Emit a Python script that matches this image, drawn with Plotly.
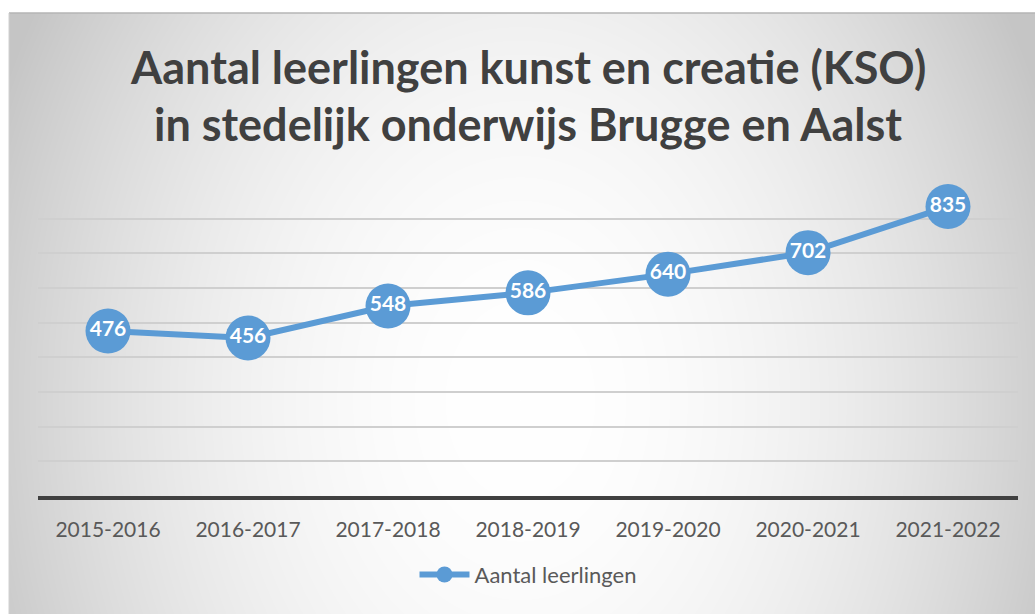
import base64, struct, zlib
import numpy as np
import plotly.graph_objects as go

# ---- data ----
categories = ["2015-2016", "2016-2017", "2017-2018", "2018-2019", "2019-2020", "2020-2021", "2021-2022"]
values = [476, 456, 548, 586, 640, 702, 835]
series_name = "Aantal leerlingen"
title_lines = ["Aantal leerlingen kunst en creatie (KSO)", "in stedelijk onderwijs Brugge en Aalst"]

# ---- layout geometry (window pixels) ----
W, H = 1035, 614
plot_left, plot_right, plot_top, plot_bottom = 38, 1018, 184, 496
L, R, T, B = plot_left, W - plot_right, plot_top, H - plot_bottom
PW, PH = plot_right - plot_left, plot_bottom - plot_top
panel_x0, panel_y0 = 9, 13


def px_to_paper(px, py):
    return (px - plot_left) / PW, (plot_bottom - py) / PH


# ---- radial gradient background as PNG ----
def gray_png(arr):
    h, w = arr.shape
    raw = b"".join(b"\x00" + arr[i].tobytes() for i in range(h))

    def chunk(tag, data):
        c = struct.pack(">I", len(data)) + tag + data
        return c + struct.pack(">I", zlib.crc32(tag + data) & 0xFFFFFFFF)

    png = b"\x89PNG\r\n\x1a\n"
    png += chunk(b"IHDR", struct.pack(">IIBBBBB", w, h, 8, 0, 0, 0, 0))
    png += chunk(b"IDAT", zlib.compress(raw, 9))
    png += chunk(b"IEND", b"")
    return "data:image/png;base64," + base64.b64encode(png).decode()


iw, ih = W - panel_x0, H - panel_y0
yy, xx = np.mgrid[0:ih, 0:iw].astype(float)
xx += panel_x0
yy += panel_y0
d2 = ((xx - 520) / 513.0) ** 2 + ((yy - 400) / 684.0) ** 2
v = 255 - np.minimum(47 * d2, 58)
img = np.clip(v, 0, 255).astype(np.uint8)
bg_src = gray_png(img)

fig = go.Figure()
fig.add_trace(go.Scatter(
    x=categories, y=values, name=series_name,
    mode="lines+markers+text",
    line=dict(color="#5B9BD5", width=6),
    marker=dict(color="#5B9BD5", size=45),
    text=[str(v_) for v_ in values],
    textposition="middle center",
    textfont=dict(family="Lato", size=21, color="white", weight="bold"),
    cliponaxis=False,
))

ix0, iy0 = px_to_paper(panel_x0, panel_y0)
fig.add_layout_image(dict(
    source=bg_src, xref="paper", yref="paper", x=ix0, y=iy0,
    sizex=iw / PW, sizey=ih / PH, xanchor="left", yanchor="top",
    sizing="stretch", layer="below",
))

# panel border
bx1, by1 = px_to_paper(W, H)
fig.add_shape(type="line", xref="paper", yref="paper", x0=ix0, x1=bx1, y0=iy0, y1=iy0,
              line=dict(color="#b5b5b5", width=1.5), layer="below")
fig.add_shape(type="line", xref="paper", yref="paper", x0=ix0, x1=ix0, y0=iy0, y1=by1,
              line=dict(color="#d0d0d0", width=1), layer="below")

for i, line in enumerate(title_lines):
    tx, ty = px_to_paper(529, 67 + i * 57)
    fig.add_annotation(text=line, xref="paper", yref="paper", x=0.5, y=ty,
                       xanchor="center", yanchor="middle", showarrow=False,
                       font=dict(family="Lato", size=45, color="#404040", weight="bold"))

fig.update_layout(
    width=W, height=H,
    margin=dict(l=L, r=R, t=T, b=B),
    paper_bgcolor="white",
    plot_bgcolor="rgba(0,0,0,0)",
    showlegend=True,
    legend=dict(orientation="h", x=0.5, xanchor="center", y=-0.185, yanchor="top",
                font=dict(family="Lato", size=22, color="#595959"),
                bgcolor="rgba(0,0,0,0)", itemwidth=50),
    xaxis=dict(range=[-0.5, len(categories) - 0.5], showgrid=False, showline=True,
               linecolor="#404040", linewidth=4,
               ticks="", tickfont=dict(family="Lato", size=21, color="#595959"),
               ticklabelstandoff=12, fixedrange=True),
    yaxis=dict(range=[0, 900], dtick=100, showgrid=True, gridcolor="#cfcfcf", gridwidth=1.5,
               showticklabels=False, zeroline=False, showline=False, fixedrange=True),
)

fig.write_html(
    "out.html",
    config={"displayModeBar": False},
    post_script="document.body.style.margin='0';document.body.style.overflow='hidden';",
)
